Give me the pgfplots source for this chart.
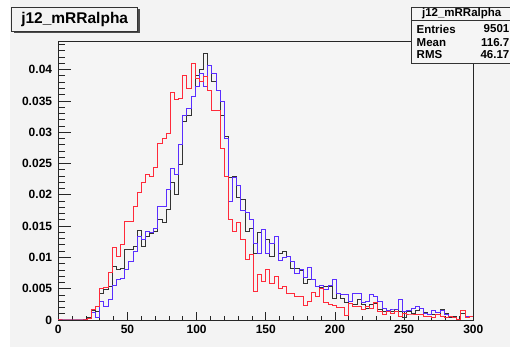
\documentclass[border=0pt]{standalone}
\usepackage{pgfplots}
\pgfplotsset{compat=1.18}
\usepackage{pgfplotstable}
\usepackage{fontspec}
\setmainfont{Liberation Sans}
\definecolor{hblack}{HTML}{333333}
\definecolor{hblue}{HTML}{5A2EFF}
\definecolor{hred}{HTML}{FF2A3A}
\definecolor{canvas}{HTML}{F3F3F3}
\definecolor{framebg}{HTML}{F5F5F5}

\pgfplotstableread{
x black blue red
0 0 0 0
3 0 0 0
6 0 0 0
9 0 0 0
12 0 0 0
15 0 0 0
18 0 0 0
21 0.0004 0.0003 0.0003
24 0.0015 0.0012 0.0017
27 0.0013 0.0004 0.0021
30 0.0043 0.0029 0.0051
33 0.0049 0.0021 0.0052
36 0.0053 0.0032 0.0076
39 0.0085 0.0055 0.0116
42 0.0081 0.0065 0.0101
45 0.0082 0.0066 0.0121
48 0.0112 0.0080 0.0157
51 0.0112 0.0094 0.0157
54 0.0117 0.0109 0.0182
57 0.0143 0.0133 0.0204
60 0.0118 0.0128 0.0219
63 0.0133 0.0141 0.0232
66 0.0138 0.0139 0.0229
69 0.0141 0.0146 0.0244
72 0.0160 0.0181 0.0282
75 0.0155 0.0181 0.0290
78 0.0176 0.0208 0.0298
81 0.0219 0.0242 0.0364
84 0.0200 0.0232 0.0352
87 0.0248 0.0280 0.0354
90 0.0317 0.0326 0.0391
93 0.0327 0.0338 0.0370
96 0.0357 0.0357 0.0409
99 0.0390 0.0373 0.0386
102 0.0400 0.0394 0.0381
105 0.0425 0.0373 0.0389
108 0.0407 0.0407 0.0367
111 0.0381 0.0394 0.0335
114 0.0367 0.0367 0.0335
117 0.0326 0.0349 0.0274
120 0.0293 0.0290 0.0229
123 0.0228 0.0190 0.0160
126 0.0230 0.0228 0.0141
129 0.0195 0.0215 0.0155
132 0.0192 0.0175 0.0128
135 0.0141 0.0172 0.0096
138 0.0146 0.0160 0.0105
141 0.0106 0.0122 0.0045
144 0.0140 0.0106 0.0073
147 0.0144 0.0144 0.0061
150 0.0129 0.0106 0.0080
153 0.0101 0.0122 0.0058
156 0.0133 0.0133 0.0070
159 0.0106 0.0095 0.0051
162 0.0109 0.0100 0.0053
165 0.0101 0.0101 0.0043
168 0.0082 0.0093 0.0043
171 0.0083 0.0075 0.0038
174 0.0079 0.0080 0.0038
177 0.0059 0.0068 0.0023
180 0.0064 0.0084 0.0030
183 0.0065 0.0064 0.0044
186 0.0054 0.0054 0.0038
189 0.0052 0.0055 0.0050
192 0.0054 0.0048 0.0028
195 0.0053 0.0055 0.0025
198 0.0035 0.0064 0.0023
201 0.0043 0.0043 0.0020
204 0.0035 0.0040 0.0020
207 0.0028 0.0040 0.0007
210 0.0027 0.0029 0.0026
213 0.0024 0.0043 0.0022
216 0.0032 0.0043 0.0021
219 0.0024 0.0028 0.0017
222 0.0019 0.0030 0.0022
225 0.0024 0.0040 0.0019
228 0.0027 0.0037 0.0028
231 0.0016 0.0029 0.0013
234 0.0013 0.0019 0.0008
237 0.0014 0.0015 0.0014
240 0.0013 0.0016 0.0011
243 0.0016 0.0016 0.0013
246 0.0013 0.0033 0.0005
249 0.0004 0.0013 0.0010
252 0.0013 0.0015 0.0008
255 0.0011 0.0018 0.0008
258 0.0015 0.0022 0.0009
261 0.0019 0.0018 0.0008
264 0.0012 0.0010 0.0006
267 0.0008 0.0008 0.0005
270 0.0009 0.0015 0.0004
273 0.0008 0.0012 0.0008
276 0.0016 0.0015 0.0006
279 0.0010 0.0008 0.0004
282 0.0004 0.0006 0.0005
285 0.0006 0.0004 0.0004
288 0.0001 0.0001 0.0001
291 0.0011 0.0015 0.0015
294 0.0004 0.0005 0.0004
297 0.0005 0.0006 0.0006
300 0.0005 0.0006 0.0006
}\histdata

\begin{document}
\begin{tikzpicture}[x=1pt,y=1pt]
\useasboundingbox (0pt,0pt) rectangle (510pt,347pt);
\fill[canvas] (10pt,0pt) rectangle (510pt,347pt);
\begin{axis}[
  at={(58.3pt,27pt)}, anchor=south west,
  width=415pt, height=279pt, scale only axis,
  xmin=0, xmax=300, ymin=0, ymax=0.04457,
  scaled y ticks=false, scaled x ticks=false,
  axis background/.style={fill=framebg},
  axis line style={black!85, line width=0.9pt},
  xtick={0,50,100,150,200,250,300},
  xticklabels={0,50,100,150,200,250,300},
  ytick={0,0.005,0.01,0.015,0.02,0.025,0.03,0.035,0.04},
  yticklabels={0,0.005,0.01,0.015,0.02,0.025,0.03,0.035,0.04},
  minor xtick={10,20,30,40,60,70,80,90,110,120,130,140,160,170,180,190,210,220,230,240,260,270,280,290},
  minor ytick={0.001,0.002,0.003,0.004,0.006,0.007,0.008,0.009,0.011,0.012,0.013,0.014,0.016,0.017,0.018,0.019,0.021,0.022,0.023,0.024,0.026,0.027,0.028,0.029,0.031,0.032,0.033,0.034,0.036,0.037,0.038,0.039,0.041,0.042,0.043,0.044},
  xtick pos=left, ytick pos=left,
  tick align=inside,
  xtick style={black!85, line width=0.8pt, /pgfplots/major tick length=8.4pt, /pgfplots/minor tick length=4.2pt},
  ytick style={black!85, line width=0.8pt, /pgfplots/major tick length=12.5pt, /pgfplots/minor tick length=6.2pt},
  ticklabel style={font=\bfseries\fontsize{12}{12}\selectfont, inner sep=0pt},
  xticklabel style={yshift=-5pt},
  yticklabel style={xshift=-6pt},
]
\addplot[const plot, hblack, line width=1pt] table[x=x, y=black]{\histdata};
\addplot[const plot, hblue, line width=1pt] table[x=x, y=blue]{\histdata};
\addplot[const plot, hred, line width=1pt] table[x=x, y=red]{\histdata};
\end{axis}
% title box
\fill[black!70] (13.7pt,314pt) rectangle (139.7pt,337.7pt);
\filldraw[fill=canvas, draw=black!80, line width=0.8pt] (11.7pt,316pt) rectangle (137.7pt,339.7pt);
\node[font=\bfseries\fontsize{15.5}{16}\selectfont, inner sep=0pt] at (74.7pt,327.8pt) {j12\_mRRalpha};
% stats box
\filldraw[fill=framebg, draw=black!80, line width=0.8pt] (411.7pt,284pt) rectangle (515pt,339.7pt);
\draw[black!80, line width=0.8pt] (411.7pt,326.3pt) -- (515pt,326.3pt);
\begin{scope}[font=\bfseries\fontsize{11.5}{12}\selectfont]
\node[inner sep=0pt] at (461.7pt,333pt) {j12\_mRRalpha};
\node[inner sep=0pt, anchor=west] at (416.5pt,318pt) {Entries};
\node[inner sep=0pt, anchor=east] at (509.5pt,318pt) {9501};
\node[inner sep=0pt, anchor=west] at (416.5pt,304.5pt) {Mean};
\node[inner sep=0pt, anchor=east] at (509.5pt,304.5pt) {116.7};
\node[inner sep=0pt, anchor=west] at (416.5pt,292pt) {RMS};
\node[inner sep=0pt, anchor=east] at (509.5pt,292pt) {46.17};
\end{scope}
\end{tikzpicture}
\end{document}
